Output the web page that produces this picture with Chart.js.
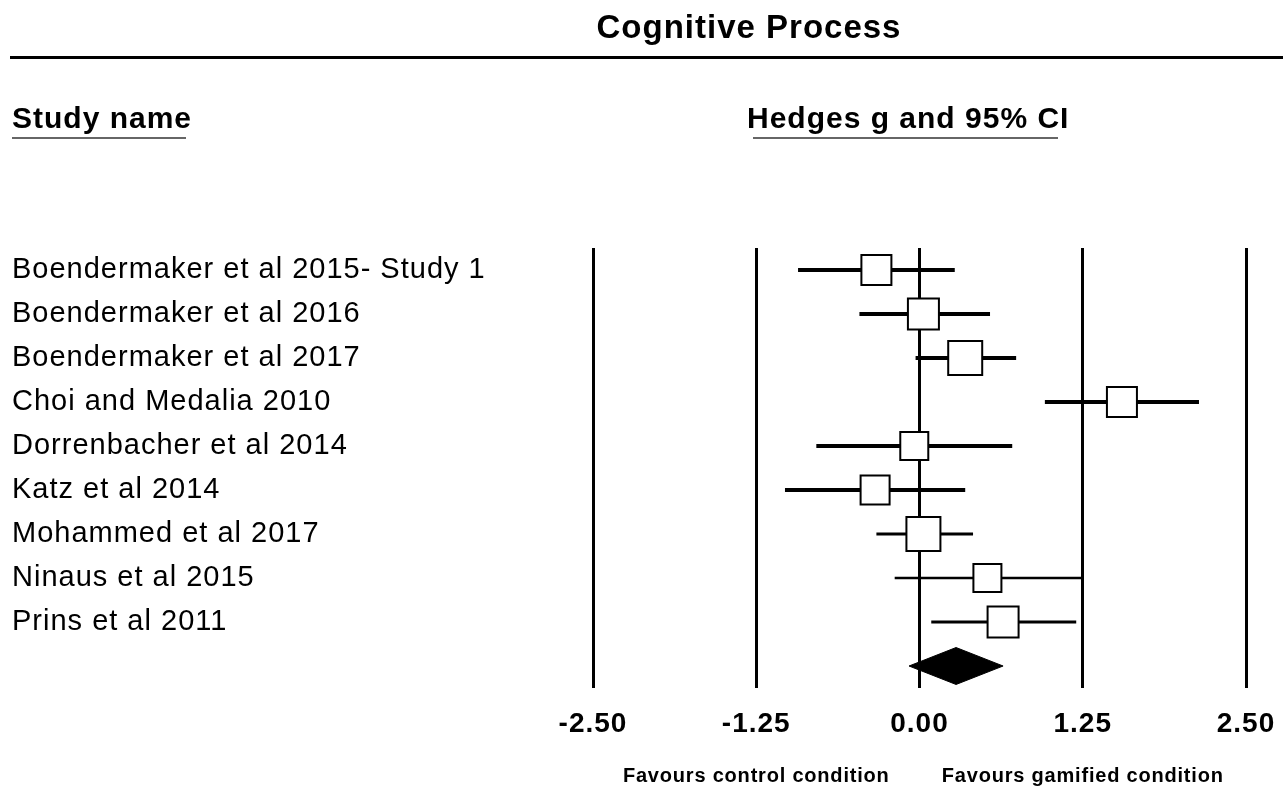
<!DOCTYPE html>
<html>
<head>
<meta charset="utf-8">
<script src="https://cdn.jsdelivr.net/npm/chart.js@4.4.0/dist/chart.umd.min.js"></script>
<style>
  html, body { margin: 0; padding: 0; background: #fff; }
  #wrap { width: 1283px; height: 801px; }
</style>
</head>
<body>
<div id="wrap"><canvas id="forest" width="1283" height="801"></canvas></div>
<script>
const studies = [
  'Boendermaker et al 2015- Study 1',
  'Boendermaker et al 2016',
  'Boendermaker et al 2017',
  'Choi and Medalia 2010',
  'Dorrenbacher et al 2014',
  'Katz et al 2014',
  'Mohammed et al 2017',
  'Ninaus et al 2015',
  'Prins et al 2011'
];
const hedgesG = [-0.33, 0.03, 0.35, 1.55, -0.04, -0.34, 0.03, 0.52, 0.64];
const lowerCI = [-0.93, -0.46, -0.03, 0.96, -0.79, -1.03, -0.33, -0.19, 0.09];
const upperCI = [0.27, 0.54, 0.74, 2.14, 0.71, 0.35, 0.41, 1.25, 1.20];
const summary = { g: 0.28, lower: -0.08, upper: 0.64 };
const xTicks = [-2.5, -1.25, 0, 1.25, 2.5];

// box side in px (study weight), CI line width
const boxSide = [30, 31, 34, 30, 28, 29, 34, 28, 31];
const ciWidth = [4, 4, 4, 4, 4, 4, 3, 2.5, 3];
const FONT = '"Liberation Sans", Arial, sans-serif';
const summaryRow = studies.length;
const diamondHalf = 0.42;

const datasets = [];

// squares first so they are drawn on top
datasets.push({
  type: 'scatter',
  data: hedgesG.map((g, i) => ({ x: g, y: i })),
  pointStyle: 'rect',
  pointRadius: boxSide.map(s => s / Math.SQRT2),
  backgroundColor: '#fff',
  borderColor: '#000',
  borderWidth: 2
});

studies.forEach((name, i) => {
  datasets.push({
    type: 'line',
    data: [{ x: lowerCI[i], y: i }, { x: upperCI[i], y: i }],
    borderColor: '#000',
    borderWidth: ciWidth[i],
    pointRadius: 0,
    fill: false
  });
});

// summary diamond: top half filled down to bottom half
datasets.push({
  type: 'line',
  data: [
    { x: summary.lower, y: summaryRow },
    { x: summary.g, y: summaryRow - diamondHalf },
    { x: summary.upper, y: summaryRow }
  ],
  borderColor: '#000',
  borderWidth: 1,
  backgroundColor: '#000',
  pointRadius: 0,
  tension: 0,
  fill: '+1'
});
datasets.push({
  type: 'line',
  data: [
    { x: summary.lower, y: summaryRow },
    { x: summary.g, y: summaryRow + diamondHalf },
    { x: summary.upper, y: summaryRow }
  ],
  borderColor: '#000',
  borderWidth: 1,
  pointRadius: 0,
  tension: 0,
  fill: false
});

// the source uses slightly spaced-out lettering
const spacingPlugin = {
  id: 'spacing',
  beforeDraw(chart) { chart.ctx.letterSpacing = '1px'; }
};

const headerPlugin = {
  id: 'header',
  afterDraw(chart) {
    const ctx = chart.ctx;
    ctx.save();
    ctx.fillStyle = '#000';
    ctx.textBaseline = 'middle';
    ctx.letterSpacing = '1px';

    ctx.font = 'bold 33px ' + FONT;
    ctx.textAlign = 'center';
    ctx.fillText('Cognitive Process', 749, 29);

    ctx.fillRect(10, 56, 1273, 3);

    ctx.font = 'bold 30px ' + FONT;
    ctx.textAlign = 'left';
    ctx.fillText('Study name', 12, 120);
    ctx.fillText('Hedges g and 95% CI', 747, 120);

    ctx.fillStyle = '#666';
    ctx.fillRect(12, 137, 174, 2);
    ctx.fillRect(753, 137, 305, 2);

    ctx.fillStyle = '#000';
    ctx.font = 'bold 20px ' + FONT;
    ctx.letterSpacing = '0.8px';
    ctx.textAlign = 'center';
    const x = chart.scales.x;
    ctx.fillText('Favours control condition', x.getPixelForValue(-1.25), 776);
    ctx.fillText('Favours gamified condition', x.getPixelForValue(1.25), 776);
    ctx.restore();
  }
};

new Chart(document.getElementById('forest'), {
  type: 'scatter',
  data: { datasets },
  options: {
    responsive: false,
    animation: false,
    devicePixelRatio: 1,
    layout: { padding: { top: 248, right: 37, bottom: 0, left: 12 } },
    plugins: {
      legend: { display: false },
      tooltip: { enabled: false },
      title: { display: false }
    },
    scales: {
      x: {
        type: 'linear',
        min: -2.5,
        max: 2.5,
        afterBuildTicks: s => { s.ticks = xTicks.map(v => ({ value: v })); },
        afterFit: s => { s.height = 113; s.paddingLeft = 0; s.paddingRight = 0; },
        ticks: {
          padding: 19,
          color: '#000',
          font: { family: FONT, size: 28, weight: 'bold' },
          callback: v => Number(v).toFixed(2),
          maxRotation: 0,
          autoSkip: false
        },
        grid: { color: '#000', lineWidth: 3, drawTicks: false },
        border: { display: false }
      },
      y: {
        type: 'linear',
        reverse: true,
        min: -0.5,
        max: summaryRow + 0.5,
        afterBuildTicks: s => { s.ticks = studies.map((_, i) => ({ value: i })); },
        afterFit: s => { s.width = 593 - 12; },
        ticks: {
          crossAlign: 'far',
          color: '#000',
          font: { family: FONT, size: 29 },
          callback: v => studies[v] || '',
          autoSkip: false
        },
        grid: { display: false },
        border: { display: false }
      }
    }
  },
  plugins: [spacingPlugin, headerPlugin]
});
</script>
</body>
</html>
